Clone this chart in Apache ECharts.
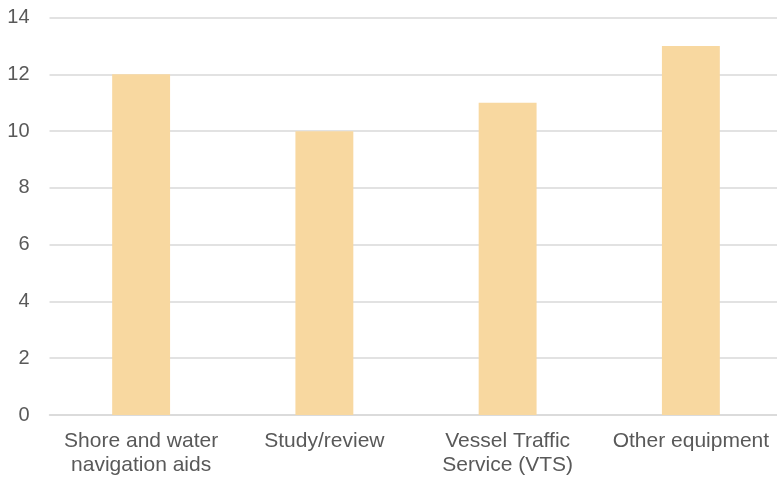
<!DOCTYPE html>
<html><head><meta charset="utf-8">
<script src="https://cdn.jsdelivr.net/npm/echarts@6/dist/echarts.min.js"></script>
<style>html,body{margin:0;padding:0;background:#fff}#c{width:777px;height:480px}</style>
</head><body><div id="c"></div>
<script>
const categories = ['Shore and water\nnavigation aids', 'Study/review', 'Vessel Traffic\nService (VTS)', 'Other equipment'];
const values = [12, 10, 11, 13];
const chart = echarts.init(document.getElementById('c'), null, {renderer: 'canvas'});
chart.setOption({
  animation: false,
  grid: {left: 49.5, width: 733, top: 17.6, height: 397.4, containLabel: false, outerBoundsMode: 'none'},
  xAxis: {
    type: 'category', data: categories,
    axisLine: {show: true, lineStyle: {color: '#d9d9d9', width: 1.5}},
    axisTick: {show: false},
    axisLabel: {color: '#595959', fontFamily: 'Liberation Sans, Arial', fontSize: 21, margin: 14, lineHeight: 24, interval: 0}
  },
  yAxis: {
    type: 'value', min: 0, max: 14, interval: 2,
    axisLine: {show: false}, axisTick: {show: false},
    splitLine: {lineStyle: {color: '#d9d9d9', width: 1.5}},
    axisLabel: {color: '#595959', fontFamily: 'Liberation Sans, Arial', fontSize: 20, margin: 20}
  },
  series: [{type: 'bar', data: values, barWidth: '31.6%', itemStyle: {color: '#F8D8A0'}}]
});
</script></body></html>
